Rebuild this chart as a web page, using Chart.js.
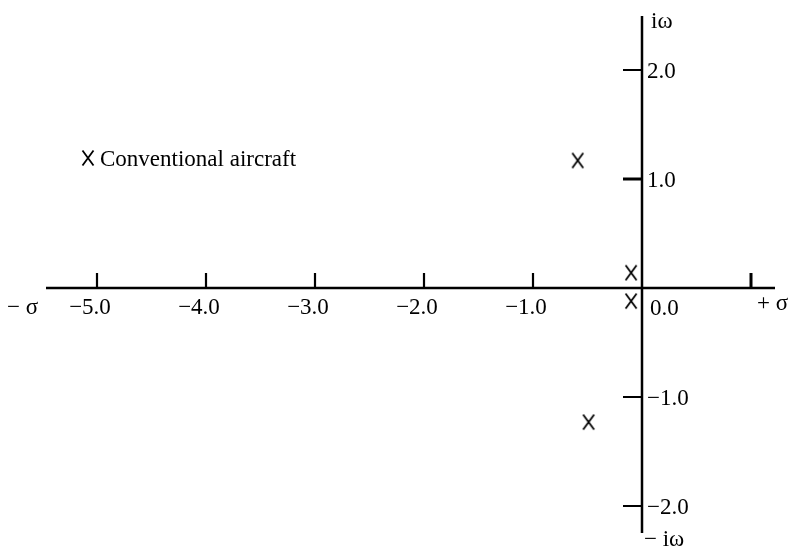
<!DOCTYPE html>
<html>
<head>
<meta charset="utf-8">
<script src="https://cdn.jsdelivr.net/npm/chart.js@4/dist/chart.umd.min.js"></script>
<style>
  body { margin: 0; background: #fff; }
  canvas { display: block; }
</style>
</head>
<body>
<canvas id="planoS" width="793" height="547"></canvas>
<script>
//DATOS: POLOS DEL AVION CONVENCIONAL EN EL PLANO S
const polosSigma = [-0.59, -0.10, -0.10, -0.49];
const polosOmega = [1.17, 0.14, -0.12, -1.23];

//MARCAS DE LOS EJES
const ticksSigma = [-5, -4, -3, -2, -1, 1];
const etiquetasSigma = ['\u22125.0', '\u22124.0', '\u22123.0', '\u22122.0', '\u22121.0', ''];
const ticksOmega = [2, 1, -1, -2];
const etiquetasOmega = ['2.0', '1.0', '\u22121.0', '\u22122.0'];

const textoLeyenda = 'Conventional aircraft';

const FUENTE = '"Liberation Serif", "Times New Roman", serif';

//Dibuja la X que se usa como marcador de cada polo
function crearMarcaX(){
    var c = document.createElement('canvas');
    c.width = 14;
    c.height = 18;
    var g = c.getContext('2d');
    g.strokeStyle = '#000';
    g.lineWidth = 1.8;
    g.beginPath();
    g.moveTo(1.5, 1.5); g.lineTo(12.5, 16.5);
    g.moveTo(12.5, 1.5); g.lineTo(1.5, 16.5);
    g.stroke();
    return c;
}
const marcaX = crearMarcaX();

//Ejes en cruz, marcas y textos del plano s
const ejesPlanoS = {
    id: 'ejesPlanoS',
    afterDraw(chart){
        var ctx = chart.ctx;
        var sx = chart.scales.x, sy = chart.scales.y;
        var x0 = sx.getPixelForValue(0);
        var y0 = sy.getPixelForValue(0);
        ctx.save();
        ctx.strokeStyle = '#000';
        ctx.fillStyle = '#000';

        //eje real
        ctx.lineWidth = 2.5;
        ctx.beginPath();
        ctx.moveTo(46, y0); ctx.lineTo(775, y0);
        ctx.stroke();
        //eje imaginario
        ctx.beginPath();
        ctx.moveTo(x0, 16); ctx.lineTo(x0, 533);
        ctx.stroke();

        //marcas del eje real (hacia arriba)
        ctx.font = '23px ' + FUENTE;
        ctx.textBaseline = 'alphabetic';
        ctx.textAlign = 'center';
        for(var i=0; i<ticksSigma.length; i++){
            var px = sx.getPixelForValue(ticksSigma[i]);
            ctx.lineWidth = ticksSigma[i] > 0 ? 3 : 2.2;
            ctx.beginPath();
            ctx.moveTo(px, y0 - 15); ctx.lineTo(px, y0);
            ctx.stroke();
            ctx.fillText(etiquetasSigma[i], px - 7, y0 + 26);
        }

        //marcas del eje imaginario (hacia la izquierda)
        ctx.textAlign = 'left';
        for(var j=0; j<ticksOmega.length; j++){
            var py = sy.getPixelForValue(ticksOmega[j]);
            ctx.lineWidth = ticksOmega[j] == 1 ? 3 : 2;
            ctx.beginPath();
            ctx.moveTo(x0 - 19, py); ctx.lineTo(x0, py);
            ctx.stroke();
            ctx.fillText(etiquetasOmega[j], x0 + 5, py + 8);
        }
        ctx.fillText('0.0', x0 + 8, y0 + 27);

        //nombres de los ejes
        ctx.fillText('\u2212 \u03c3', 7, y0 + 26);
        ctx.fillText('+ \u03c3', 757, y0 + 22);
        ctx.fillText('i\u03c9', x0 + 9, 28);
        ctx.fillText('\u2212 i\u03c9', x0 + 2, 546);

        //leyenda
        ctx.drawImage(marcaX, 81, 149);
        ctx.fillText(textoLeyenda, 100, 166);
        ctx.restore();
    }
};

//ESCALAS: 109 px por unidad, origen en (642, 288)
const PX_UNIDAD = 109;
const escalaX = { min: -642 / PX_UNIDAD, max: (793 - 642) / PX_UNIDAD };
const escalaY = { min: -(547 - 288) / PX_UNIDAD, max: 288 / PX_UNIDAD };

new Chart(document.getElementById('planoS'), {
    type: 'scatter',
    data: {
        datasets: [{
            label: textoLeyenda,
            data: polosSigma.map((s, i) => ({ x: s, y: polosOmega[i] })),
            pointStyle: marcaX,
            pointRadius: 7,
            pointHoverRadius: 7
        }]
    },
    options: {
        responsive: false,
        animation: false,
        layout: { padding: 0, autoPadding: false },
        plugins: { legend: { display: false }, tooltip: { enabled: false } },
        scales: {
            x: { type: 'linear', display: false, min: escalaX.min, max: escalaX.max },
            y: { type: 'linear', display: false, min: escalaY.min, max: escalaY.max }
        }
    },
    plugins: [ejesPlanoS]
});
</script>
</body>
</html>
